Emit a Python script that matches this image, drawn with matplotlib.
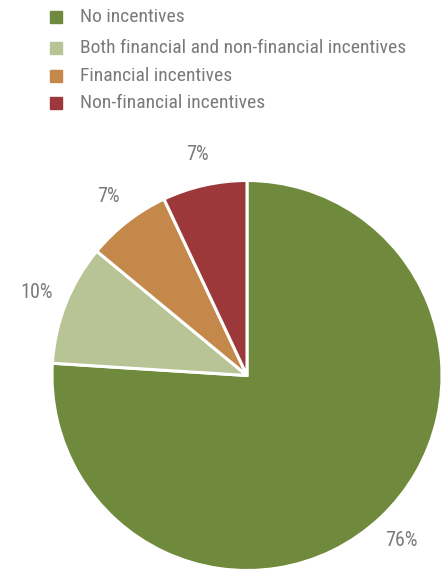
import matplotlib
matplotlib.use("Agg")
import matplotlib.pyplot as plt
from matplotlib.patches import Rectangle

labels = [
    "No incentives",
    "Both financial and non-financial incentives",
    "Financial incentives",
    "Non-financial incentives",
]
shares = [76, 10, 7, 7]
colors = ["#6F8A3C", "#B8C495", "#C4884A", "#9C383A"]

TEXT_GREY = "#7A7A7A"
FONT = ["Roboto Condensed", "DejaVu Sans"]

W, H = 443, 572
fig = plt.figure(figsize=(W / 100, H / 100), dpi=100)

# pie axes: centre (247, 375.5) px, radius 195 px
cx, cy, r = 247, 375.5, 195
ax = fig.add_axes([(cx - r) / W, (H - cy - r) / H, 2 * r / W, 2 * r / H])
wedges, texts, autotexts = ax.pie(
    shares,
    colors=colors,
    startangle=90,
    counterclock=False,
    radius=1,
    autopct=lambda p: f"{p:.0f}%",
    pctdistance=1.16,
    wedgeprops=dict(edgecolor="white", linewidth=2.2),
    textprops=dict(color=TEXT_GREY, fontsize=14.5, family=FONT),
)
ax.set_xlim(-1, 1)
ax.set_ylim(-1, 1)
ax.set_aspect("equal")
ax.axis("off")

# legend rows drawn by hand (uneven spacing)
row_y = [17, 48, 76, 103]
for lab, col, y in zip(labels, colors, row_y):
    s = 12
    fig.patches.append(Rectangle(((56 - s / 2) / W, 1 - (y + s / 2) / H), s / W, s / H,
                                 transform=fig.transFigure, color=col))
    fig.text(80 / W, 1 - y / H, lab, color=TEXT_GREY, fontsize=14,
             family=FONT, va="center", ha="left")

fig.savefig("out.png", dpi=100)
